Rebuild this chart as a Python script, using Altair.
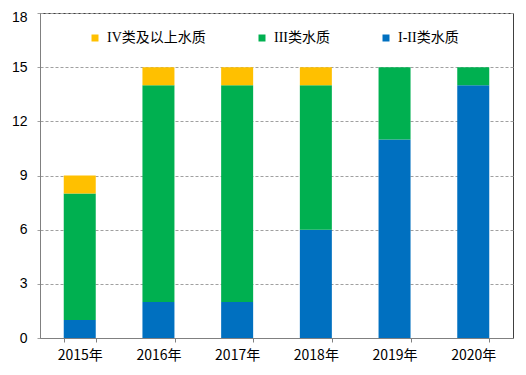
import altair as alt
import pandas as pd

years = ["2015年", "2016年", "2017年", "2018年", "2019年", "2020年"]
cats = ["I-II类水质", "III类水质", "IV类及以上水质"]
v_12 = [1, 2, 2, 6, 11, 14]
v_3 = [7, 12, 12, 8, 4, 1]
v_4 = [1, 1, 1, 1, 0, 0]
colors = ["#0070C0", "#00B050", "#FFC000"]

rows = []
for i, y in enumerate(years):
    for k, (c, vals) in enumerate(zip(cats, [v_12, v_3, v_4])):
        rows.append({"year": y, "cat": c, "value": vals[i], "ord": k})
df = pd.DataFrame(rows)

axis_font = "Noto Sans CJK SC, sans-serif"
yaxis_font = "Liberation Sans, sans-serif"
legend_font = "Liberation Serif, Noto Sans CJK SC, serif"

chart = alt.Chart(df).mark_bar(size=32).encode(
    x=alt.X("year:N", sort=years, title=None,
            scale=alt.Scale(paddingInner=0.59, paddingOuter=0.3),
            axis=alt.Axis(labelAngle=0, labelFontSize=14, labelFont=axis_font, labelColor="#000",
                          domainColor="#808080", tickColor="#808080", tickSize=4,
                          tickBand="extent", labelPadding=6, grid=False)),
    y=alt.Y("value:Q", title=None, stack="zero",
            scale=alt.Scale(domain=[0, 18]),
            axis=alt.Axis(values=[0, 3, 6, 9, 12, 15, 18], labelFontSize=14, labelFont=yaxis_font,
                          labelColor="#000", domainColor="#808080", tickColor="#A0A0A0",
                          tickSize=5, tickDash=[3, 2], gridDash=[3, 2], gridColor="#A0A0A0",
                          labelPadding=8,
                          labelOffset={"condition": {"test": "datum.value == 18", "value": 4},
                                       "value": 0})),
    color=alt.Color("cat:N", sort=cats,
                    scale=alt.Scale(domain=cats, range=colors),
                    legend=alt.Legend(title=None, orient="none", legendX=48, legendY=18,
                                      direction="horizontal", symbolType="square",
                                      symbolSize=49, labelFontSize=14, labelFont=legend_font,
                                      labelColor="#000", columnPadding=49, labelOffset=5,
                                      symbolStrokeWidth=0,
                                      values=cats[::-1])),
    order=alt.Order("ord:Q", sort="ascending"),
).properties(
    width=473, height=325,
    autosize=alt.AutoSizeParams(type="none"),
    padding={"left": 32, "top": 5, "right": 5, "bottom": 30},
).configure_view(stroke="#404040", strokeWidth=1)

chart.save("out.html", embed_options={"renderer": "svg", "actions": False})
